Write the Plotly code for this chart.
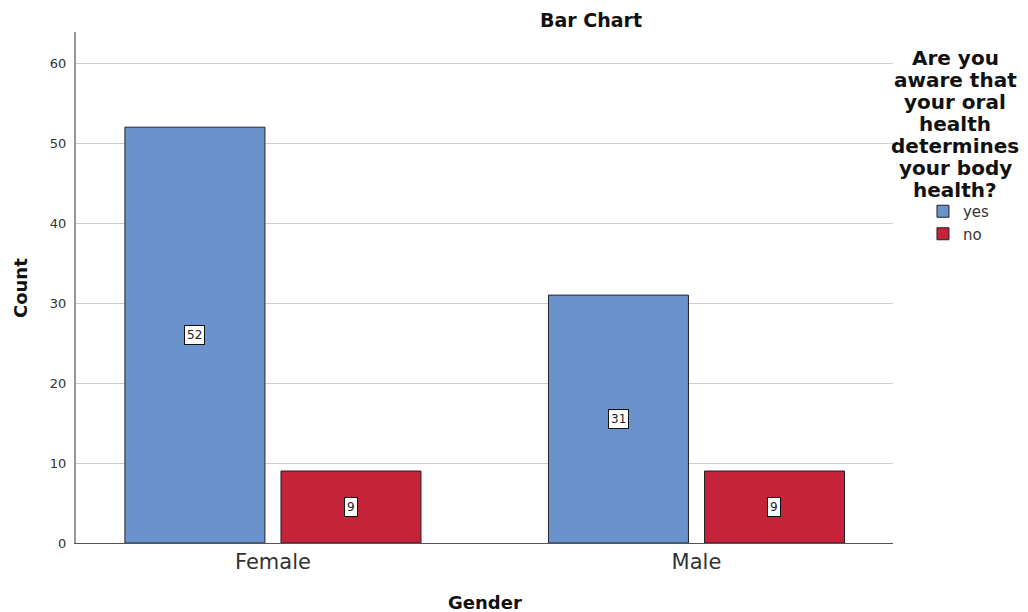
import plotly.graph_objects as go

categories = ["Female", "Male"]
yes_counts = [52, 31]
no_counts = [9, 9]
series_names = ["yes", "no"]
series_colors = ["#6a93cd", "#c4233a"]
legend_title_lines = ["Are you", "aware that", "your oral", "health",
                      "determines", "your body", "health?"]
y_ticks = [0, 10, 20, 30, 40, 50, 60]

FONT = "DejaVu Sans, sans-serif"
PLOT_H = 511.0  # plot-area height in px, used to convert pixel offsets to paper units

fig = go.Figure()
for name, vals, col in zip(series_names, [yes_counts, no_counts], series_colors):
    fig.add_trace(go.Bar(
        x=categories, y=vals, name=name,
        marker=dict(color=col, line=dict(color="#222222", width=1)),
        hoverinfo="x+y+name",
    ))

# value labels in white boxes at bar middles
bar_offsets = [-78, 78]
for vals, off in zip([yes_counts, no_counts], bar_offsets):
    for c, v in zip(categories, vals):
        fig.add_annotation(
            x=c, y=v / 2, xref="x", yref="y", text=str(v), showarrow=False,
            xshift=off, font=dict(family=FONT, size=12, color="#222222"),
            bgcolor="white", bordercolor="#111111", borderwidth=1, borderpad=2,
        )

# legend title, one annotation per line for tight line spacing
for i, line in enumerate(legend_title_lines):
    fig.add_annotation(
        x=1.076, y=(485 - 22 * i) / PLOT_H, xref="paper", yref="paper",
        xanchor="center", yanchor="middle", text="<b>" + line + "</b>",
        showarrow=False, font=dict(family=FONT, size=20, color="#111111"),
    )

# chart title
fig.add_annotation(
    x=0.630, y=1.0235, xref="paper", yref="paper", xanchor="center", yanchor="middle",
    text="<b>Bar Chart</b>", showarrow=False,
    font=dict(family=FONT, size=19, color="#111111"),
)
# axis titles
fig.add_annotation(
    x=0.5, y=-0.117, xref="paper", yref="paper", xanchor="center", yanchor="middle",
    text="<b>Gender</b>", showarrow=False,
    font=dict(family=FONT, size=18, color="#111111"),
)
fig.add_annotation(
    x=-0.0685, y=0.499, xref="paper", yref="paper", xanchor="center", yanchor="middle",
    text="<b>Count</b>", showarrow=False, textangle=-90,
    font=dict(family=FONT, size=18, color="#111111"),
)

fig.update_layout(
    width=1020, height=604,
    margin=dict(l=68, r=135, t=24, b=69),
    paper_bgcolor="white", plot_bgcolor="white",
    barmode="group", bargap=0.263, bargroupgap=0.103,
    font=dict(family=FONT, color="#222222"),
    showlegend=True,
    legend=dict(
        x=1.0367, y=0.681, xref="paper", yref="paper", xanchor="left", yanchor="top",
        font=dict(family=FONT, size=15, color="#333333"),
        tracegroupgap=0, bgcolor="rgba(0,0,0,0)",
    ),
    xaxis=dict(
        range=[-0.465, 1.464], showline=True, linecolor="#555555", linewidth=1,
        showgrid=False, ticks="", automargin=False,
        tickfont=dict(family=FONT, size=21, color="#333333"),
    ),
    yaxis=dict(
        range=[0, 63.9], tickvals=y_ticks, showline=True, linecolor="#999999", linewidth=2,
        showgrid=True, gridcolor="#cfcfcf", gridwidth=1, zeroline=False, ticks="",
        automargin=False,
        tickfont=dict(family=FONT, size=13, color="#333333"), ticklabelstandoff=5,
    ),
)

fig.write_html("out.html")
